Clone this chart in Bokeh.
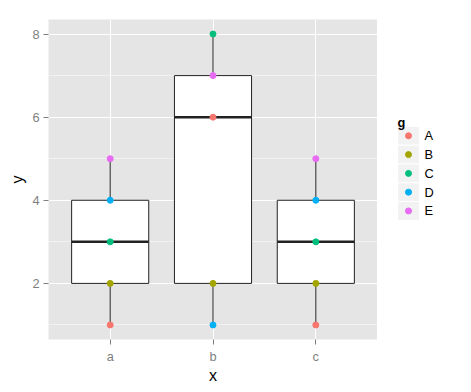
import numpy as np
from bokeh.plotting import figure
from bokeh.models import ColumnDataSource, FactorRange, Range1d, FixedTicker
from bokeh.transform import dodge
from bokeh.layouts import row
from bokeh.core.properties import value
from bokeh.embed import file_html
from bokeh.resources import INLINE

# ---- data ----
categories = ["a", "b", "c"]
groups = ["A", "B", "C", "D", "E"]
values_a = [1, 2, 3, 4, 5]
values_b = [6, 2, 8, 1, 7]
values_c = [1, 2, 3, 4, 5]
group_colors = ["#F8766D", "#A3A500", "#00BF7D", "#00B0F6", "#E76BF3"]
y_major_ticks = [2, 4, 6, 8]
y_minor_ticks = [1, 3, 5, 7]
x_label = "x"
y_label = "y"
legend_title = "g"

FONT = "Liberation Sans"
per_cat = [values_a, values_b, values_c]

# ---- box statistics (ggplot-style, type 7 quantiles) ----
stats = dict(x=[], q1=[], med=[], q3=[], lo=[], hi=[])
for cat, vals in zip(categories, per_cat):
    v = np.asarray(vals, float)
    q1, med, q3 = np.percentile(v, [25, 50, 75])
    iqr = q3 - q1
    stats["x"].append(cat)
    stats["q1"].append(q1)
    stats["med"].append(med)
    stats["q3"].append(q3)
    stats["lo"].append(v[v >= q1 - 1.5 * iqr].min())
    stats["hi"].append(v[v <= q3 + 1.5 * iqr].max())
box_src = ColumnDataSource(stats)

all_y = np.concatenate([np.asarray(v, float) for v in per_cat])
span = all_y.max() - all_y.min()
y_range = Range1d(all_y.min() - 0.05 * span, all_y.max() + 0.05 * span)

p = figure(
    x_range=FactorRange(factors=categories, range_padding=0.1, range_padding_units="absolute"),
    y_range=y_range,
    width=377, height=392,
    output_backend="svg", toolbar_location=None,
    min_border_left=48, min_border_right=0, min_border_top=19, min_border_bottom=53,
    background_fill_color="#E5E5E5", border_fill_color="white",
    outline_line_color=None,
)

ticker = FixedTicker(ticks=y_major_ticks, minor_ticks=y_minor_ticks)
p.yaxis.ticker = ticker
p.ygrid.ticker = ticker
p.grid.grid_line_color = "white"
p.grid.grid_line_width = 1
p.ygrid.minor_grid_line_color = "#F2F2F2"
p.ygrid.minor_grid_line_width = 1

for ax in (p.xaxis, p.yaxis):
    ax.axis_line_color = None
    ax.major_tick_in = 0
    ax.major_tick_out = 5
    ax.major_tick_line_color = "#7F7F7F"
    ax.minor_tick_line_color = None
    ax.major_label_text_color = "#7F7F7F"
    ax.major_label_text_font = FONT
    ax.major_label_text_font_size = "12.8px"
    ax.major_label_standoff = 4
    ax.axis_label_text_font = FONT
    ax.axis_label_text_font_size = "16px"
    ax.axis_label_text_font_style = "normal"
    ax.axis_label_text_color = "black"
    ax.axis_label_standoff = 0
p.xaxis.axis_label = x_label
p.yaxis.axis_label = y_label
p.yaxis.axis_label_standoff = 3

# whiskers
p.segment(x0="x", y0="q3", x1="x", y1="hi", source=box_src, line_color="#222222", line_width=1)
p.segment(x0="x", y0="q1", x1="x", y1="lo", source=box_src, line_color="#222222", line_width=1)
# boxes
p.vbar(x="x", width=0.75, bottom="q1", top="q3", source=box_src,
       fill_color="white", line_color="#222222", line_width=1)
# medians
p.segment(x0=dodge("x", -0.375, range=p.x_range), x1=dodge("x", 0.375, range=p.x_range),
          y0="med", y1="med", source=box_src, line_color="#222222", line_width=2.5)

# points
for gi, (g, col) in enumerate(zip(groups, group_colors)):
    xs = categories
    ys = [vals[gi] for vals in per_cat]
    p.scatter(x=xs, y=ys, marker="circle", size=6, fill_color=col, line_color=col)

# ---- legend panel ----
leg = figure(width=94, height=392, x_range=Range1d(0, 94), y_range=Range1d(392, 0),
             output_backend="svg", toolbar_location=None, min_border=0,
             outline_line_color=None, x_axis_location=None, y_axis_location=None,
             border_fill_color="white", background_fill_color="white")
leg.grid.grid_line_color = None

key_top0 = 131
key_h = 23
key_left = 20
key_w = 22
tops = [key_top0 + i * key_h for i in range(len(groups))]
bots = [t + key_h for t in tops]
mids = [t + key_h / 2 for t in tops]
leg.quad(left=key_left, right=key_left + key_w, top=tops, bottom=bots,
         fill_color="#F2F2F2", line_color="white", line_width=1)
leg.scatter(x=[key_left + key_w / 2] * len(groups), y=mids, marker="circle", size=6,
            fill_color=group_colors, line_color=group_colors)
leg.text(x=[key_left + key_w + 5] * len(groups), y=mids, text=groups,
         text_font=value(FONT), text_font_size="12.8px", text_color="black",
         text_baseline="middle", text_align="left")
leg.text(x=[key_left], y=[key_top0 - 5], text=[legend_title],
         text_font=value(FONT), text_font_size="12.8px", text_font_style="bold",
         text_color="black", text_baseline="alphabetic", text_align="left")

layout = row(p, leg)
open("out.html", "w").write(file_html(layout, INLINE))
